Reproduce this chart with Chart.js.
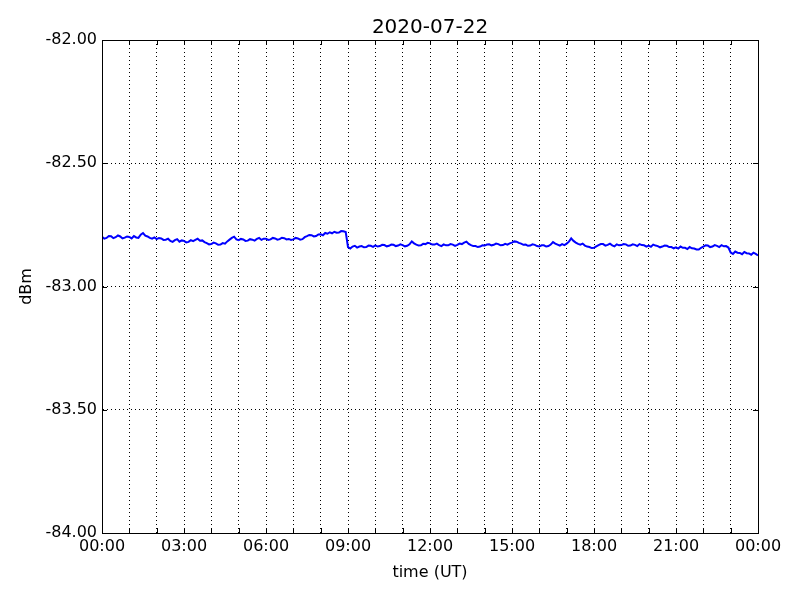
<!DOCTYPE html>
<html>
<head>
<meta charset="utf-8">
<script src="https://cdn.jsdelivr.net/npm/chart.js@4/dist/chart.umd.min.js"></script>
<style>
  body { margin: 0; background: #fff; }
  canvas { display: block; }
</style>
</head>
<body>
<canvas id="powerChart" width="800" height="600"></canvas>
<script>
// hours since 00:00 UT, one sample every 5 minutes
const hours = [];
for (let i = 0; i <= 288; i++) hours.push(i / 12);

// signal level in dBm (12 samples per hour)
const level = [
    -82.798, -82.806, -82.803, -82.795, -82.796, -82.804, -82.800, -82.793, -82.797, -82.805, -82.802, -82.797, // 00h
    -82.799, -82.805, -82.795, -82.801, -82.803, -82.790, -82.783, -82.794, -82.797, -82.803, -82.806, -82.801, // 01h
    -82.808, -82.803, -82.805, -82.811, -82.810, -82.806, -82.815, -82.819, -82.812, -82.808, -82.818, -82.813, // 02h
    -82.815, -82.821, -82.819, -82.812, -82.816, -82.811, -82.806, -82.814, -82.813, -82.820, -82.824, -82.829, // 03h
    -82.828, -82.822, -82.825, -82.831, -82.830, -82.824, -82.826, -82.817, -82.810, -82.803, -82.798, -82.809, // 04h
    -82.812, -82.807, -82.809, -82.815, -82.814, -82.808, -82.810, -82.814, -82.807, -82.803, -82.811, -82.806, // 05h
    -82.806, -82.811, -82.809, -82.803, -82.805, -82.810, -82.808, -82.802, -82.804, -82.809, -82.807, -82.811, // 06h
    -82.809, -82.803, -82.805, -82.810, -82.808, -82.800, -82.796, -82.791, -82.792, -82.797, -82.795, -82.789, // 07h
    -82.788, -82.792, -82.783, -82.786, -82.780, -82.784, -82.778, -82.782, -82.781, -82.775, -82.776, -82.779, // 08h
    -82.840, -82.846, -82.838, -82.835, -82.842, -82.838, -82.836, -82.841, -82.840, -82.834, -82.835, -82.839, // 09h
    -82.833, -82.838, -82.836, -82.831, -82.832, -82.837, -82.835, -82.830, -82.831, -82.836, -82.834, -82.829, // 10h
    -82.832, -82.837, -82.835, -82.829, -82.817, -82.825, -82.830, -82.834, -82.833, -82.827, -82.828, -82.823, // 11h
    -82.825, -82.830, -82.830, -82.826, -82.832, -82.836, -82.829, -82.833, -82.833, -82.828, -82.830, -82.835, // 12h
    -82.831, -82.826, -82.828, -82.822, -82.818, -82.827, -82.832, -82.836, -82.836, -82.840, -82.838, -82.833, // 13h
    -82.834, -82.830, -82.829, -82.833, -82.831, -82.826, -82.828, -82.833, -82.832, -82.827, -82.830, -82.825, // 14h
    -82.822, -82.817, -82.818, -82.823, -82.826, -82.831, -82.830, -82.835, -82.834, -82.829, -82.831, -82.836, // 15h
    -82.838, -82.833, -82.833, -82.838, -82.836, -82.830, -82.820, -82.826, -82.830, -82.834, -82.828, -82.832, // 16h
    -82.826, -82.818, -82.805, -82.815, -82.822, -82.827, -82.830, -82.826, -82.834, -82.838, -82.840, -82.844, // 17h
    -82.843, -82.837, -82.832, -82.828, -82.828, -82.834, -82.831, -82.826, -82.833, -82.837, -82.829, -82.833, // 18h
    -82.832, -82.828, -82.829, -82.835, -82.834, -82.829, -82.831, -82.836, -82.828, -82.832, -82.833, -82.838, // 19h
    -82.834, -82.839, -82.830, -82.834, -82.836, -82.841, -82.838, -82.834, -82.835, -82.840, -82.840, -82.845, // 20h
    -82.841, -82.846, -82.838, -82.843, -82.843, -82.848, -82.840, -82.845, -82.846, -82.850, -82.850, -82.843, // 21h
    -82.838, -82.833, -82.834, -82.840, -82.838, -82.832, -82.835, -82.840, -82.832, -82.837, -82.836, -82.842, // 22h
    -82.862, -82.868, -82.858, -82.863, -82.864, -82.869, -82.860, -82.865, -82.866, -82.871, -82.863, -82.868, // 23h
    -82.874
];

const yTicks = [-84, -83.5, -83, -82.5, -82];

function hhmm(h) {
    h = h % 24;
    return String(h).padStart(2, '0') + ':00';
}

const font = { family: 'DejaVu Sans', size: 16 };

// matplotlib-like frame and inward tick marks
const framePlugin = {
    id: 'frame',
    afterDraw(chart) {
        const { ctx, chartArea: a, scales } = chart;
        ctx.save();
        ctx.strokeStyle = '#000';
        ctx.lineWidth = 1;
        ctx.beginPath();
        scales.x.ticks.forEach(t => {
            const px = Math.round(scales.x.getPixelForValue(t.value)) + 0.5;
            ctx.moveTo(px, a.bottom); ctx.lineTo(px, a.bottom - 5);
            ctx.moveTo(px, a.top); ctx.lineTo(px, a.top + 5);
        });
        scales.y.ticks.forEach(t => {
            const py = Math.round(scales.y.getPixelForValue(t.value)) + 0.5;
            ctx.moveTo(a.left, py); ctx.lineTo(a.left + 5, py);
            ctx.moveTo(a.right, py); ctx.lineTo(a.right - 5, py);
        });
        ctx.stroke();
        ctx.strokeRect(Math.round(a.left) + 0.5, Math.round(a.top) + 0.5,
                       Math.round(a.right - a.left), Math.round(a.bottom - a.top));
        ctx.restore();
    }
};

const chart = new Chart(document.getElementById('powerChart').getContext('2d'), {
    type: 'line',
    data: {
        labels: hours,
        datasets: [{
            data: hours.map((h, i) => ({ x: h, y: level[i] })),
            borderColor: '#0000ff',
            borderWidth: 2,
            pointRadius: 0,
            tension: 0,
            fill: false
        }]
    },
    options: {
        responsive: false,
        animation: false,
        layout: { padding: { left: 0, right: 42, top: 0, bottom: 0 } },
        plugins: {
            legend: { display: false },
            tooltip: { enabled: false },
            title: {
                display: true,
                fullSize: false,
                text: '2020-07-22',
                color: '#000',
                font: { family: 'DejaVu Sans', size: 20, weight: 'normal' },
                padding: { top: 16, bottom: 0 }
            }
        },
        scales: {
            x: {
                type: 'linear',
                min: 0,
                max: 24,
                afterFit(s) { s.height = 67; },
                afterBuildTicks(s) { s.ticks = hours.filter((h, i) => i % 12 === 0).map(v => ({ value: v })); },
                ticks: {
                    autoSkip: false,
                    maxRotation: 0,
                    padding: 4,
                    color: '#000',
                    font,
                    callback: v => (v % 3 === 0 ? hhmm(v) : '')
                },
                grid: { color: '#000', lineWidth: 1, drawTicks: false },
                border: { display: true, color: '#000', dash: [1, 3] },
                title: { display: true, text: 'time (UT)', color: '#000', font, padding: { top: 0, bottom: 18 } }
            },
            y: {
                min: -84,
                max: -82,
                afterFit(s) { s.width = 102; },
                afterBuildTicks(s) { s.ticks = yTicks.map(v => ({ value: v })); },
                ticks: {
                    padding: 5,
                    color: '#000',
                    font,
                    callback: v => v.toFixed(2)
                },
                grid: { color: '#000', lineWidth: 1, drawTicks: false },
                border: { display: true, color: '#000', dash: [1, 3] },
                title: { display: true, text: 'dBm', color: '#000', font, padding: { top: 17, bottom: 0 } }
            }
        }
    },
    plugins: [framePlugin]
});
</script>
</body>
</html>
